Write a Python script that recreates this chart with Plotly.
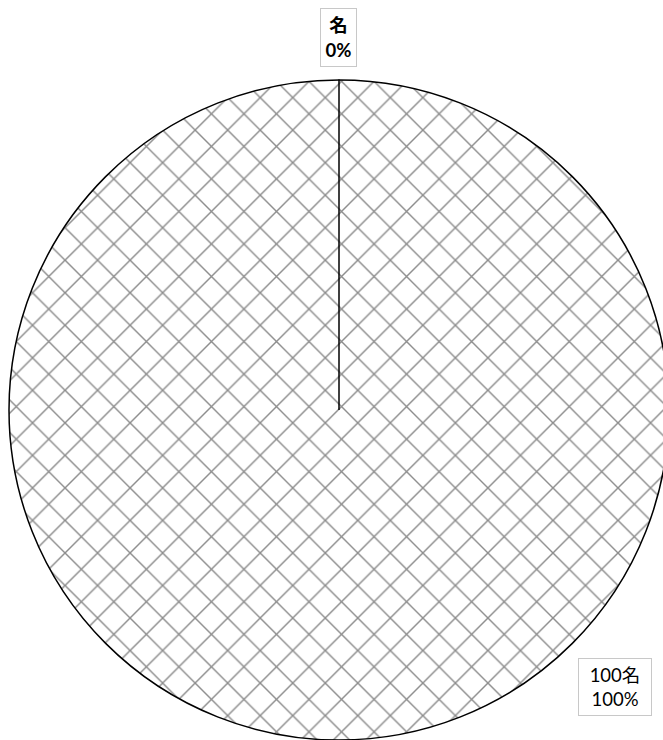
import math
import plotly.graph_objects as go

# data
categories = ["該当なし", "該当"]
counts = [0, 100]
unit = "名"

total = sum(counts)
percents = [round(c / total * 100) for c in counts]
label_texts = [f"{'' if c == 0 else c}{unit}<br>{p}%" for c, p in zip(counts, percents)]

W, H = 680, 745
L, T, S = 9, 80, 660

def px_to_paper(px, py):
    return (px - L) / S, 1 - (py - T) / S

fig = go.Figure(go.Pie(
    labels=categories,
    values=counts,
    sort=False,
    direction="clockwise",
    rotation=0,
    textinfo="none",
    hoverinfo="skip",
    showlegend=False,
    marker=dict(
        colors=["white", "white"],
        line=dict(color="black", width=1.5),
        pattern=dict(shape="x", size=23, fgcolor="#8c8c8c", bgcolor="white", solidity=0.12),
    ),
))

# slice boundary for the zero-width slice (start angle of each slice, clockwise from 12 o'clock)
cum = 0
for c in counts:
    if c == 0:
        ang = 2 * math.pi * cum / total
        fig.add_shape(type="line", xref="paper", yref="paper",
                      x0=0.5, y0=0.5, x1=0.5 + 0.5 * math.sin(ang), y1=0.5 + 0.5 * math.cos(ang),
                      line=dict(color="black", width=1.5))
    cum += c

font_fam = "Lato, 'Noto Sans CJK JP', sans-serif"
boxes = [
    dict(center=(338.5, 37.5), w=35, h=57, bold=True),
    dict(center=(615, 687), w=72, h=56, bold=False),
]
for txt, b in zip(label_texts, boxes):
    x, y = px_to_paper(*b["center"])
    t = f"<b>{txt.replace('<br>', '</b><br><b>')}</b>" if b["bold"] else txt
    fig.add_annotation(
        x=x, y=y, xref="paper", yref="paper", text=t, showarrow=False,
        xanchor="center", yanchor="middle", width=b["w"], height=b["h"],
        font=dict(family=font_fam, size=18.5, color="black"),
        bordercolor="#c8c8c8", borderwidth=1, borderpad=0, bgcolor="white",
        align="center",
    )

fig.update_layout(
    width=W, height=H,
    margin=dict(l=L, r=W - L - S, t=T, b=H - T - S),
    paper_bgcolor="white", plot_bgcolor="white",
)

fig.write_html("out.html", config={"displayModeBar": False},
               post_script="document.body.style.margin='0';document.body.style.overflow='hidden';")
